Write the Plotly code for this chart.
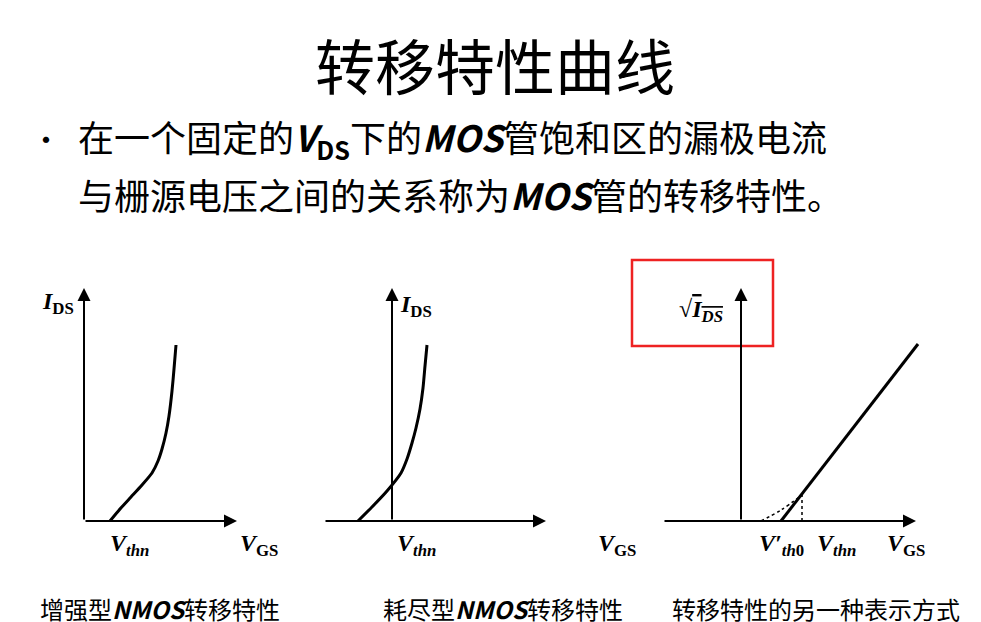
import plotly.graph_objects as go

# curve data, per panel, x/y measured from that panel's origin
enh_x = [26, 36, 47, 58, 68, 74, 78, 82, 85, 88, 90, 92]
enh_y = [0, 12, 24, 36, 48, 60, 72, 88, 105, 130, 152, 176]
dep_x = [-34, -20, -5, 9, 15, 20, 24, 28, 31, 33, 35]
dep_y = [0, 14, 30, 48, 62, 78, 93, 112, 133, 155, 176]
sq_x = [40, 177]
sq_y = [0, 177]
sq_ext_x = [20, 40, 61]
sq_ext_y = [0, 11, 26]
vthn3 = 61
vthn3_y = 26

W, H = 981, 622
fig = go.Figure()
doms = [[0, 0.33], [0.33, 0.66], [0.66, 1]]
origins = [76, 384, 733]
oy = 513
for i, (d, o) in enumerate(zip(doms, origins)):
    k = "" if i == 0 else str(i + 1)
    fig.update_layout({
        f"xaxis{k}": dict(domain=d, range=[d[0] * W - o, d[1] * W - o], visible=False, fixedrange=True),
        f"yaxis{k}": dict(domain=[0, 1], range=[oy - H, oy], visible=False, fixedrange=True),
    })

line = dict(color="black", width=3)
fig.add_trace(go.Scatter(x=enh_x, y=enh_y, mode="lines", line=dict(shape="spline", smoothing=0.6, **line), xaxis="x", yaxis="y"))
fig.add_trace(go.Scatter(x=dep_x, y=dep_y, mode="lines", line=dict(shape="spline", smoothing=0.6, **line), xaxis="x2", yaxis="y2"))
fig.add_trace(go.Scatter(x=sq_x, y=sq_y, mode="lines", line=line, xaxis="x3", yaxis="y3"))
fig.add_trace(go.Scatter(x=sq_ext_x, y=sq_ext_y, mode="lines", line=dict(color="black", width=1.5, dash="dot", shape="spline"), xaxis="x3", yaxis="y3"))
fig.add_trace(go.Scatter(x=[vthn3, vthn3], y=[0, vthn3_y], mode="lines", line=dict(color="black", width=1.5, dash="dot"), xaxis="x3", yaxis="y3"))

anns = []
def arrow(ax_id, x0, y0, x1, y1):
    anns.append(dict(xref=f"x{ax_id}", yref=f"y{ax_id}", axref=f"x{ax_id}", ayref=f"y{ax_id}",
                     x=x1, y=y1, ax=x0, ay=y0, showarrow=True, arrowhead=2, arrowsize=1.3,
                     arrowwidth=2, arrowcolor="black", text=""))

# axes with arrows
arrow("", 0, 0, 153, 0); arrow("", 0, 0, 0, 233)
arrow("2", -68, 0, 154, 0); arrow("2", 0, 0, 0, 233)
arrow("3", -78, 0, 175, 0); arrow("3", 0, 0, 0, 233)

serif = dict(family="Liberation Serif", size=24, color="black")
def lab(ax_id, x, y, t):
    anns.append(dict(xref=f"x{ax_id}", yref=f"y{ax_id}", x=x, y=y, text=t, showarrow=False,
                     xanchor="center", yanchor="middle", font=serif))

ids = "<b><i>I</i></b><sub><b>DS</b></sub>"
vthn = "<b><i>V</i></b><sub><b><i>thn</i></b></sub>"
vgs = "<b><i>V</i></b><sub><b>GS</b></sub>"
lab("", -26, 218, ids); lab("", 45, -24, vthn); lab("", 175, -24, vgs)
lab("2", 24, 215, ids); lab("2", 24, -24, vthn); lab("2", 225, -24, vgs)
lab("3", -40, 210, "√<span style='text-decoration:overline'><b><i>I<sub>DS</sub></i></b></span>")
lab("3", 40, -24, "<b><i>V′</i></b><sub><b><i>th</i>0</b></sub>")
lab("3", 95, -24, vthn); lab("3", 165, -24, vgs)

cjk = "Noto Sans CJK SC"
def ptxt(x, y, t, size, anchor="center"):
    anns.append(dict(xref="paper", yref="paper", x=x / W, y=1 - y / H, text=t, showarrow=False,
                     xanchor=anchor, yanchor="middle", font=dict(family=cjk, size=size, color="black")))

ptxt(487, 55, "转移特性曲线", 60)
ptxt(38, 130, "•", 30)
ptxt(68, 130, "在一个固定的<b><i>V</i><sub>DS</sub></b>下的<b><i>MOS</i></b>管饱和区的漏极电流", 36, "left")
ptxt(68, 186, "与栅源电压之间的关系称为<b><i>MOS</i></b>管的转移特性。", 36, "left")
for x, t in [(152, "增强型<b><i>NMOS</i></b>转移特性"), (495, "耗尽型<b><i>NMOS</i></b>转移特性"), (808, "转移特性的另一种表示方式")]:
    ptxt(x, 600, t, 24)

fig.update_layout(
    width=W, height=H, margin=dict(l=0, r=0, t=0, b=0), showlegend=False,
    plot_bgcolor="white", paper_bgcolor="white", annotations=anns,
    shapes=[dict(type="rect", xref="paper", yref="paper", x0=624 / W, x1=765 / W,
                 y0=1 - 338 / H, y1=1 - 252 / H, line=dict(color="#ee2222", width=2.5))],
)
fig.write_html("out.html")
